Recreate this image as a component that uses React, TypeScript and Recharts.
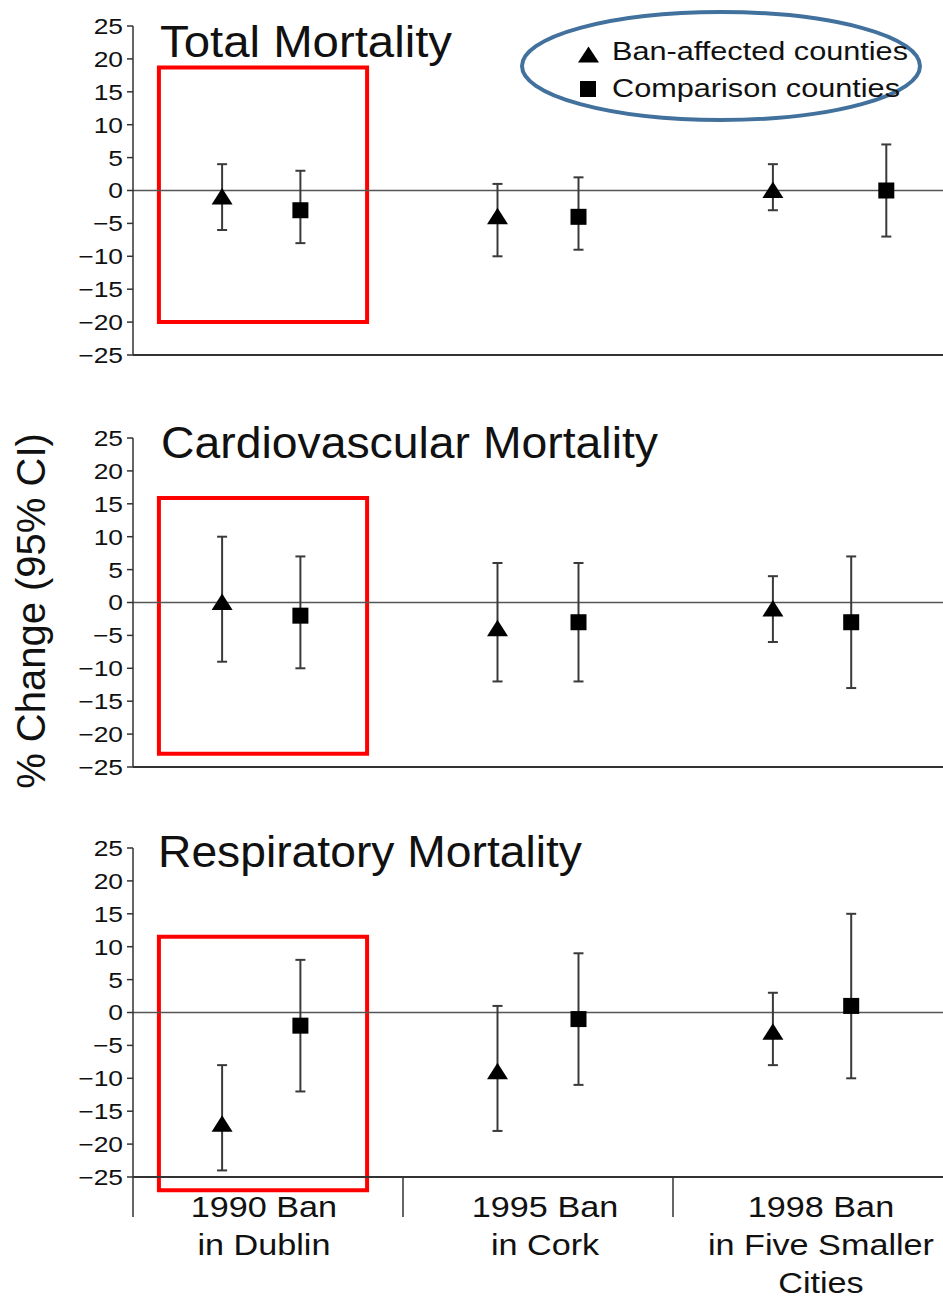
import React from 'react';
import {
  ScatterChart,
  Scatter,
  XAxis,
  YAxis,
  ErrorBar,
  ReferenceLine,
  ReferenceArea,
  Legend,
} from 'recharts';

// ---------- data ----------
const GROUP_LABELS = [
  ['1990 Ban', 'in Dublin'],
  ['1995 Ban', 'in Cork'],
  ['1998 Ban', 'in Five Smaller', 'Cities'],
];
const GROUP_LABEL_POS = [0.485, 1.526, 2.548];
const GROUP_DIVIDERS = [0, 1, 2];
const Y_TICKS = [-25, -20, -15, -10, -5, 0, 5, 10, 15, 20, 25];
const SERIES_NAMES = ['Ban-affected counties', 'Comparison counties'];

// x positions (in group units) of the two markers within each group
const BAN_X = [0.33, 1.35, 2.37];
const COMP_X = [0.62, 1.65, 2.66];
const TOTAL_COMP_X = [0.62, 1.65, 2.79];

// Total mortality
const totalBan = [-1, -4, 0];
const totalBanLow = [-6, -10, -3];
const totalBanHigh = [4, 1, 4];
const totalComp = [-3, -4, 0];
const totalCompLow = [-8, -9, -7];
const totalCompHigh = [3, 2, 7];

// Cardiovascular mortality
const cardioBan = [0, -4, -1];
const cardioBanLow = [-9, -12, -6];
const cardioBanHigh = [10, 6, 4];
const cardioComp = [-2, -3, -3];
const cardioCompLow = [-10, -12, -13];
const cardioCompHigh = [7, 6, 7];

// Respiratory mortality
const respBan = [-17, -9, -3];
const respBanLow = [-24, -18, -8];
const respBanHigh = [-8, 1, 3];
const respComp = [-2, -1, 1];
const respCompLow = [-12, -11, -10];
const respCompHigh = [8, 9, 15];

// highlight boxes (x1, x2 in group units; y1, y2 in % units)
const BOX_X = [0.096, 0.867];
const TOTAL_BOX_Y = [-20, 18.7];
const CARDIO_BOX_Y = [-23, 15.9];
const RESP_BOX_Y = [-27, 11.5];

const TITLES = ['Total Mortality', 'Cardiovascular Mortality', 'Respiratory Mortality'];

// ---------- helpers ----------
const FONT = '"Liberation Sans", Arial, Helvetica, sans-serif';
const TEXT = '#111';
const AXIS = '#333';

type Row = { x: number; y: number; err: [number, number] };
const rows = (xs: number[], est: number[], lo: number[], hi: number[]): Row[] =>
  xs.map((x, i) => ({ x, y: est[i], err: [est[i] - lo[i], hi[i] - est[i]] }));

const TriangleShape = (p: any) => {
  const { cx, cy } = p;
  return (
    <polygon
      points={`${cx},${cy - 9} ${cx - 10.5},${cy + 7.5} ${cx + 10.5},${cy + 7.5}`}
      fill="#000"
    />
  );
};
const SquareShape = (p: any) => {
  const { cx, cy } = p;
  return <rect x={cx - 8} y={cy - 8} width={16} height={16} fill="#000" />;
};

const YTick = (p: any) => {
  const { x, y, payload } = p;
  const v = payload.value as number;
  const s = v < 0 ? '\u2212' + Math.abs(v) : String(v);
  return (
    <g transform={`translate(${x},${y}) scale(1.2,1)`}>
      <text x={0} y={0} dy="0.36em" textAnchor="end" fontSize={22} fontFamily={FONT} fill={TEXT}>
        {s}
      </text>
    </g>
  );
};

const EmptyTick = () => <g />;

const XLabelTick = (p: any) => {
  const { x, y, payload } = p;
  const v = Number(payload && payload.value);
  let idx = 0;
  GROUP_LABEL_POS.forEach((pos, i) => {
    if (Math.abs(pos - v) < Math.abs(GROUP_LABEL_POS[idx] - v)) idx = i;
  });
  const lines = GROUP_LABELS[idx] || [];
  return (
    <g transform={`translate(${x},${y}) scale(1.14,1)`}>
      {lines.map((l, i) => (
        <text
          key={i}
          x={0}
          y={39 + i * 38}
          textAnchor="middle"
          fontSize={30}
          fontFamily={FONT}
          fill={TEXT}
        >
          {l}
        </text>
      ))}
    </g>
  );
};

const LegendBox = (props: any) => {
  const payload = (props && props.payload) || [];
  const names =
    payload.length >= 2 ? payload.map((p: any) => String(p.value)) : SERIES_NAMES;
  return (
    <svg width={430} height={125} style={{ display: 'block', overflow: 'visible' }}>
      <ellipse cx={211} cy={57} rx={199} ry={54} fill="none" stroke="#41719c" strokeWidth={4} />
      <polygon points="78.5,37.5 68,53.5 89,53.5" fill="#000" />
      <rect x={70} y={72} width={16} height={16} fill="#000" />
      <text
        x={102}
        y={51}
        fontSize={25}
        fontFamily={FONT}
        fill={TEXT}
        textLength={296}
        lengthAdjust="spacingAndGlyphs"
      >
        {names[0]}
      </text>
      <text
        x={102}
        y={88}
        fontSize={25}
        fontFamily={FONT}
        fill={TEXT}
        textLength={288}
        lengthAdjust="spacingAndGlyphs"
      >
        {names[1]}
      </text>
    </svg>
  );
};

type PanelProps = {
  top: number;
  ban: Row[];
  comp: Row[];
  boxY: number[];
  bottom?: boolean;
  legend?: boolean;
};

const PLOT_H = 329;
const MARGIN_TOP = 20;

const Panel = ({ top, ban, comp, boxY, bottom, legend }: PanelProps) => {
  const height = bottom ? MARGIN_TOP + PLOT_H + 1 + 130 : MARGIN_TOP + PLOT_H + 1 + 16;
  return (
    <div style={{ position: 'absolute', left: 0, top: top - MARGIN_TOP }}>
      <ScatterChart
        width={943}
        height={height}
        margin={{ top: MARGIN_TOP, right: 0, left: 0, bottom: bottom ? 0 : 16 }}
      >
        <XAxis
          xAxisId="div"
          type="number"
          dataKey="x"
          domain={[0, 3]}
          allowDataOverflow
          ticks={bottom ? GROUP_DIVIDERS : []}
          interval={0}
          tick={bottom ? <EmptyTick /> : false}
          tickLine={bottom ? { stroke: AXIS, strokeWidth: 1.5 } : false}
          tickSize={bottom ? 40 : 0}
          height={1}
          axisLine={{ stroke: AXIS, strokeWidth: 2 }}
        />
        {bottom && (
          <XAxis
            xAxisId="lab"
            type="number"
            dataKey="x"
            domain={[0, 3]}
            allowDataOverflow
            ticks={GROUP_LABEL_POS}
            interval={0}
            tick={<XLabelTick />}
            tickLine={false}
            axisLine={false}
            tickSize={0}
            tickMargin={0}
            height={130}
          />
        )}
        <YAxis
          type="number"
          dataKey="y"
          domain={[-25, 25]}
          allowDataOverflow
          ticks={Y_TICKS}
          interval={0}
          width={133}
          tickSize={6}
          tickMargin={4}
          tick={<YTick />}
          tickLine={{ stroke: AXIS, strokeWidth: 1.5 }}
          axisLine={{ stroke: AXIS, strokeWidth: 1.5 }}
        />
        <ReferenceLine xAxisId="div" y={0} stroke="#555" strokeWidth={1.5} />
        <Scatter
          xAxisId="div"
          name={SERIES_NAMES[0]}
          data={ban}
          shape={TriangleShape}
          fill="#000"
          isAnimationActive={false}
        >
          <ErrorBar dataKey="err" direction="y" width={5} stroke="#3a3a3a" strokeWidth={2} />
        </Scatter>
        <Scatter
          xAxisId="div"
          name={SERIES_NAMES[1]}
          data={comp}
          shape={SquareShape}
          fill="#000"
          isAnimationActive={false}
        >
          <ErrorBar dataKey="err" direction="y" width={5} stroke="#3a3a3a" strokeWidth={2} />
        </Scatter>
        {bottom && (
          <Scatter
            xAxisId="lab"
            name="labels-anchor"
            data={[]}
            legendType="none"
            isAnimationActive={false}
          />
        )}
        <ReferenceArea
          xAxisId="div"
          x1={BOX_X[0]}
          x2={BOX_X[1]}
          y1={boxY[0]}
          y2={boxY[1]}
          ifOverflow="visible"
          fill="none"
          fillOpacity={0}
          stroke="#ff0000"
          strokeWidth={4}
        />
        {legend && (
          <Legend
            layout="vertical"
            align="center"
            verticalAlign="middle"
            content={<LegendBox />}
            wrapperStyle={{ position: 'absolute', left: 510, top: 9 - (top - MARGIN_TOP), width: 430, height: 125 }}
          />
        )}
      </ScatterChart>
    </div>
  );
}

export default function App() {
  return (
    <div
      style={{
        position: 'absolute',
        left: 0,
        top: 0,
        width: 943,
        height: 1300,
        background: '#fff',
        overflow: 'hidden',
        fontFamily: FONT,
      }}
    >
      <Panel
        top={26}
        ban={rows(BAN_X, totalBan, totalBanLow, totalBanHigh)}
        comp={rows(TOTAL_COMP_X, totalComp, totalCompLow, totalCompHigh)}
        boxY={TOTAL_BOX_Y}
        legend
      />
      <Panel
        top={438}
        ban={rows(BAN_X, cardioBan, cardioBanLow, cardioBanHigh)}
        comp={rows(COMP_X, cardioComp, cardioCompLow, cardioCompHigh)}
        boxY={CARDIO_BOX_Y}
      />
      <Panel
        top={848}
        ban={rows(BAN_X, respBan, respBanLow, respBanHigh)}
        comp={rows(COMP_X, respComp, respCompLow, respCompHigh)}
        boxY={RESP_BOX_Y}
        bottom
      />
      <svg
        width={943}
        height={1300}
        style={{ position: 'absolute', left: 0, top: 0, pointerEvents: 'none' }}
      >
        <text x={160} y={57} fontSize={44} fontFamily={FONT} fill={TEXT} textLength={292} lengthAdjust="spacingAndGlyphs">
          {TITLES[0]}
        </text>
        <text x={161} y={458} fontSize={44} fontFamily={FONT} fill={TEXT} textLength={497} lengthAdjust="spacingAndGlyphs">
          {TITLES[1]}
        </text>
        <text x={158} y={867} fontSize={44} fontFamily={FONT} fill={TEXT} textLength={424} lengthAdjust="spacingAndGlyphs">
          {TITLES[2]}
        </text>
        <text
          x={0}
          y={0}
          transform="translate(45,611) rotate(-90)"
          textAnchor="middle"
          fontSize={40}
          fontFamily={FONT}
          fill={TEXT}
        >
          % Change (95% CI)
        </text>
      </svg>
    </div>
  );
}
